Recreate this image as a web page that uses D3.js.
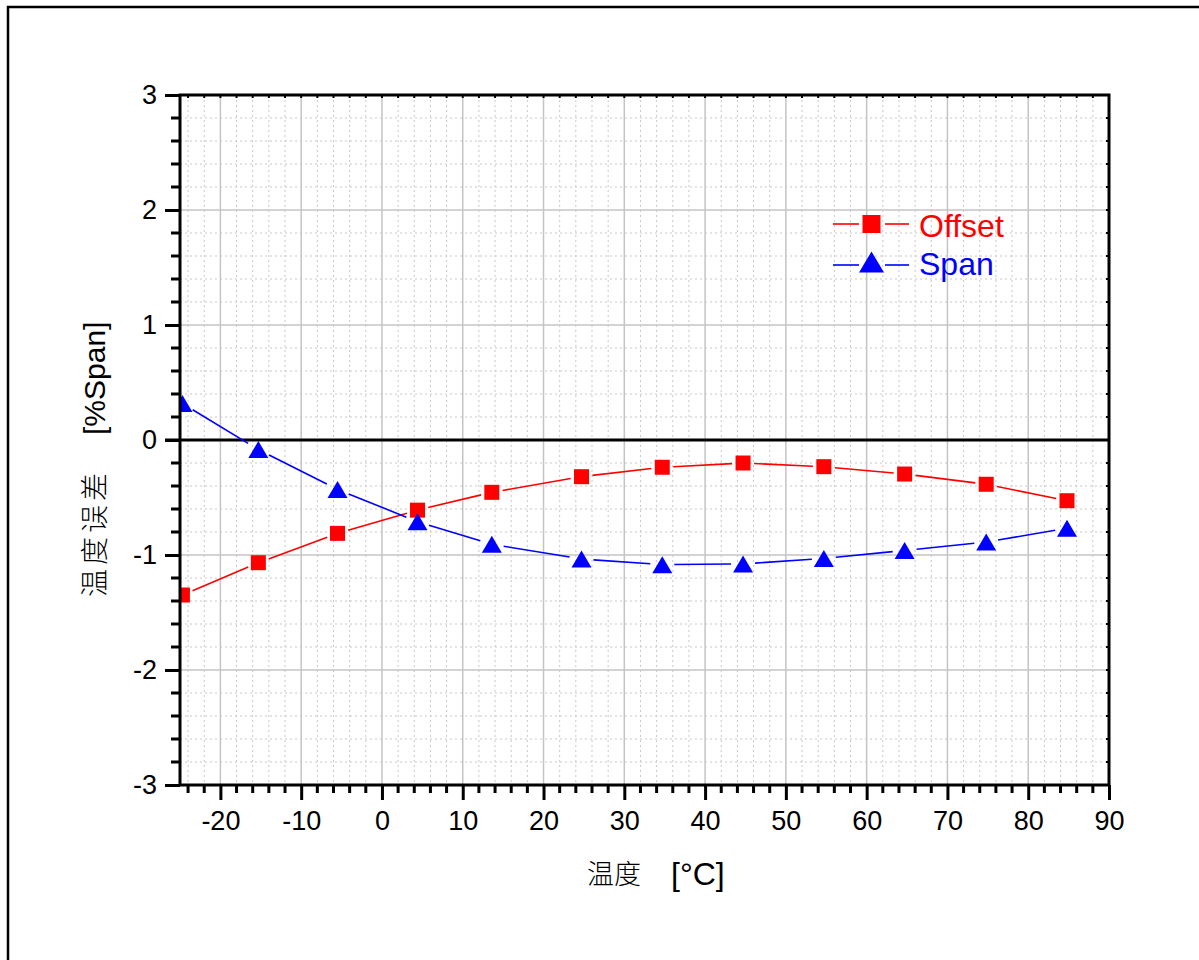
<!DOCTYPE html>
<html>
<head>
<meta charset="utf-8">
<script src="https://cdnjs.cloudflare.com/ajax/libs/d3/7.8.5/d3.min.js"></script>
<style>
  body { margin: 0; background: #ffffff; }
  svg { display: block; }
</style>
</head>
<body>
<svg id="chart" width="1199" height="960"></svg>
<script>
const temperatures = [-24.7, -15.3, -5.5, 4.4, 13.6, 24.7, 34.7, 44.7, 54.7, 64.7, 74.8, 84.8];
const offsetValues = [-1.348, -1.067, -0.812, -0.61, -0.455, -0.319, -0.237, -0.20, -0.232, -0.296, -0.385, -0.528];
const spanValues = [0.317, -0.083, -0.43, -0.71, -0.907, -1.035, -1.084, -1.078, -1.03, -0.96, -0.887, -0.768];
const xTicks = [-20, -10, 0, 10, 20, 30, 40, 50, 60, 70, 80, 90];
const yTicks = [-3, -2, -1, 0, 1, 2, 3];
const seriesNames = ['Offset', 'Span'];

const svg = d3.select('#chart');

// Plot area
const plotLeft = 180, plotRight = 1109, plotTop = 95, plotBottom = 785;

const x = d3.scaleLinear().domain([-25, 90]).range([plotLeft, plotRight]);
const y = d3.scaleLinear().domain([-3, 3]).range([plotBottom, plotTop]);

// Minor ticks every 2 on x and 0.2 on y
const xMinor = d3.range(-24, 90.01, 2).filter(v => Math.abs(v % 10) > 1e-6);
const yMinor = d3.range(-3, 3.001, 0.2).map(v => +v.toFixed(1)).filter(v => Math.abs(v - Math.round(v)) > 1e-6);

// Outer frame
svg.append('rect')
    .attr('x', 8).attr('y', 7)
    .attr('width', 1400).attr('height', 1200)
    .attr('fill', 'none')
    .attr('stroke', '#000')
    .attr('stroke-width', 2.5);

// Grid lines
const grid = svg.append('g');
grid.append('g').selectAll('line').data(xMinor).join('line')
    .attr('x1', d => x(d)).attr('x2', d => x(d))
    .attr('y1', plotTop).attr('y2', plotBottom)
    .attr('stroke', '#c8c8c8').attr('stroke-width', 1)
    .attr('stroke-dasharray', '2,3');
grid.append('g').selectAll('line').data(yMinor).join('line')
    .attr('x1', plotLeft).attr('x2', plotRight)
    .attr('y1', d => y(d)).attr('y2', d => y(d))
    .attr('stroke', '#c8c8c8').attr('stroke-width', 1)
    .attr('stroke-dasharray', '2,3');
grid.append('g').selectAll('line').data(xTicks).join('line')
    .attr('x1', d => x(d)).attr('x2', d => x(d))
    .attr('y1', plotTop).attr('y2', plotBottom)
    .attr('stroke', '#c4c4c4').attr('stroke-width', 1.5);
grid.append('g').selectAll('line').data(yTicks).join('line')
    .attr('x1', plotLeft).attr('x2', plotRight)
    .attr('y1', d => y(d)).attr('y2', d => y(d))
    .attr('stroke', '#c4c4c4').attr('stroke-width', 1.5);

// Zero line
svg.append('line')
    .attr('x1', plotLeft - 15).attr('x2', plotRight)
    .attr('y1', y(0)).attr('y2', y(0))
    .attr('stroke', '#000').attr('stroke-width', 3);

// Clip for data
svg.append('clipPath').attr('id', 'plotClip')
    .append('rect')
    .attr('x', plotLeft).attr('y', plotTop)
    .attr('width', plotRight - plotLeft).attr('height', plotBottom - plotTop);

const plot = svg.append('g').attr('clip-path', 'url(#plotClip)');

// Line segments stop short of each marker
function drawGapLine(values, color, gap) {
    const pts = temperatures.map((t, i) => [x(t), y(values[i])]);
    const segs = d3.pairs(pts).map(([a, b]) => {
        const dx = b[0] - a[0], dy = b[1] - a[1];
        const len = Math.hypot(dx, dy);
        const ux = dx / len, uy = dy / len;
        return [[a[0] + ux * gap, a[1] + uy * gap], [b[0] - ux * gap, b[1] - uy * gap]];
    });
    plot.append('g').selectAll('line').data(segs).join('line')
        .attr('x1', d => d[0][0]).attr('y1', d => d[0][1])
        .attr('x2', d => d[1][0]).attr('y2', d => d[1][1])
        .attr('stroke', color).attr('stroke-width', 1.6);
}

drawGapLine(offsetValues, '#ff0000', 11);
drawGapLine(spanValues, '#0000ff', 12);

// Marker shapes
const squarePath = s => `M${-s / 2},${-s / 2}h${s}v${s}h${-s}Z`;
const trianglePath = (w, h) => `M0,${-h / 2}L${w / 2},${h / 2}L${-w / 2},${h / 2}Z`;

plot.append('g').selectAll('path').data(offsetValues).join('path')
    .attr('transform', (d, i) => `translate(${x(temperatures[i])},${y(d)})`)
    .attr('d', squarePath(15))
    .attr('fill', '#ff0000');

plot.append('g').selectAll('path').data(spanValues).join('path')
    .attr('transform', (d, i) => `translate(${x(temperatures[i])},${y(d)})`)
    .attr('d', trianglePath(20, 17))
    .attr('fill', '#0000ff');

// Axes
const axisFont = 'Liberation Sans, Arial, sans-serif';

const yAxis = svg.append('g').attr('transform', `translate(${plotLeft},0)`)
    .call(d3.axisLeft(y).tickValues(yTicks).tickSize(15).tickFormat(d => d < 0 ? '-' + Math.abs(d) : d));
yAxis.selectAll('.tick line').attr('stroke-width', 3);
yAxis.selectAll('.tick text')
    .attr('x', -23)
    .style('font-family', axisFont).style('font-size', '27px').attr('fill', '#000');
yAxis.select('.domain').remove();

const xAxis = svg.append('g').attr('transform', `translate(0,${plotBottom})`)
    .call(d3.axisBottom(x).tickValues(xTicks).tickSize(15).tickFormat(d => d < 0 ? '-' + Math.abs(d) : d));
xAxis.selectAll('.tick line').attr('stroke-width', 3);
xAxis.selectAll('.tick text')
    .attr('y', 26)
    .style('font-family', axisFont).style('font-size', '27px').attr('fill', '#000');
xAxis.select('.domain').remove();

// Minor ticks
svg.append('g').selectAll('line').data(yMinor).join('line')
    .attr('x1', plotLeft - 9).attr('x2', plotLeft)
    .attr('y1', d => y(d)).attr('y2', d => y(d))
    .attr('stroke', '#000').attr('stroke-width', 3);
svg.append('g').selectAll('line').data(xMinor).join('line')
    .attr('x1', d => x(d)).attr('x2', d => x(d))
    .attr('y1', plotBottom).attr('y2', plotBottom + 8)
    .attr('stroke', '#000').attr('stroke-width', 3);

// Small mirrored ticks on top and right
svg.append('g').selectAll('line').data(xMinor.concat(xTicks)).join('line')
    .attr('x1', d => x(d)).attr('x2', d => x(d))
    .attr('y1', plotTop).attr('y2', plotTop + 3)
    .attr('stroke', '#000').attr('stroke-width', 2);
svg.append('g').selectAll('line').data(yMinor.concat(yTicks)).join('line')
    .attr('x1', plotRight - 3).attr('x2', plotRight)
    .attr('y1', d => y(d)).attr('y2', d => y(d))
    .attr('stroke', '#000').attr('stroke-width', 2);

// Plot frame
svg.append('rect')
    .attr('x', plotLeft).attr('y', plotTop)
    .attr('width', plotRight - plotLeft).attr('height', plotBottom - plotTop)
    .attr('fill', 'none')
    .attr('stroke', '#000').attr('stroke-width', 3);

// Axis titles
const cjkFont = 'Noto Sans CJK SC, sans-serif';

svg.append('text')
    .attr('transform', 'translate(587,884)')
    .style('font-family', cjkFont).style('font-size', '27px').style('font-weight', 300)
    .attr('fill', '#000')
    .text('温度');
svg.append('text')
    .attr('transform', 'translate(671,885)')
    .style('font-family', axisFont).style('font-size', '32px')
    .attr('fill', '#000')
    .text('[°C]');

svg.append('text')
    .attr('transform', 'translate(105,597) rotate(-90)')
    .style('font-family', cjkFont).style('font-size', '28px').style('font-weight', 300)
    .style('letter-spacing', '4px')
    .attr('fill', '#000')
    .text('温度误差');
svg.append('text')
    .attr('transform', 'translate(105,435) rotate(-90)')
    .style('font-family', axisFont).style('font-size', '30px')
    .attr('fill', '#000')
    .text('[%Span]');

// Legend
const legend = svg.append('g');
const legendRows = [
    { name: seriesNames[0], color: '#ff0000', lineY: 224, markY: 224, text: 237, shape: squarePath(18) },
    { name: seriesNames[1], color: '#0000ff', lineY: 265, markY: 262, text: 275, shape: trianglePath(25, 21) }
];
legendRows.forEach(r => {
    legend.append('line')
        .attr('x1', 833).attr('x2', 859).attr('y1', r.lineY).attr('y2', r.lineY)
        .attr('stroke', r.color).attr('stroke-width', 1.6);
    legend.append('line')
        .attr('x1', 885).attr('x2', 909).attr('y1', r.lineY).attr('y2', r.lineY)
        .attr('stroke', r.color).attr('stroke-width', 1.6);
    legend.append('path')
        .attr('transform', `translate(871.5,${r.markY})`)
        .attr('d', r.shape)
        .attr('fill', r.color);
    legend.append('text')
        .attr('x', 919).attr('y', r.text)
        .style('font-family', axisFont).style('font-size', '32px')
        .attr('fill', r.color)
        .text(r.name);
});
</script>
</body>
</html>
